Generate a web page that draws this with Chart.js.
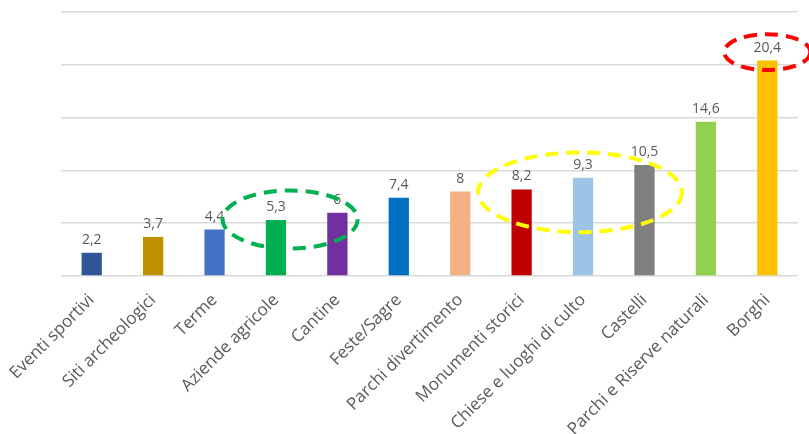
<!DOCTYPE html>
<html>
<head>
<meta charset="utf-8">
<script src="https://cdn.jsdelivr.net/npm/chart.js@4/dist/chart.umd.min.js"></script>
<style>
  html, body { margin: 0; padding: 0; background: #fff; }
  #wrap { width: 809px; height: 434px; }
</style>
</head>
<body>
<div id="wrap"><canvas id="chart" width="809" height="434"></canvas></div>
<script>
const categorie = ['Eventi sportivi', 'Siti archeologici', 'Terme', 'Aziende agricole', 'Cantine', 'Feste/Sagre',
  'Parchi divertimento', 'Monumenti storici', 'Chiese e luoghi di culto', 'Castelli', 'Parchi e Riserve naturali', 'Borghi'];
const valori = [2.2, 3.7, 4.4, 5.3, 6, 7.4, 8, 8.2, 9.3, 10.5, 14.6, 20.4];
const colori = ['#2F5597', '#BF9000', '#4472C4', '#00B050', '#7030A0', '#0070C0',
  '#F4B183', '#C00000', '#9DC3E6', '#7F7F7F', '#92D050', '#FFC000'];

const textC = '#595959';
const gridC = '#d9d9d9';

// etichette valori sopra le barre
const etichette = {
  id: 'etichette',
  afterDatasetsDraw(chart) {
    const ctx = chart.ctx;
    const meta = chart.getDatasetMeta(0);
    ctx.save();
    ctx.fillStyle = textC;
    ctx.font = '14px "Open Sans"';
    ctx.textAlign = 'center';
    ctx.textBaseline = 'alphabetic';
    meta.data.forEach((bar, i) => {
      ctx.fillText(String(valori[i]).replace('.', ','), bar.x, bar.y - 9);
    });
    ctx.restore();
  }
};

// ellissi tratteggiate (centro in indice categoria, estremi in valori)
const ellissi = {
  id: 'ellissi',
  afterDatasetsDraw(chart) {
    const ctx = chart.ctx;
    const x = chart.scales.x, y = chart.scales.y;
    const step = x.getPixelForValue(1) - x.getPixelForValue(0);
    const lista = [
      { cx: 3.23, rx: 1.1, top: 8.1, bottom: 2.6, col: '#00B050' },
      { cx: 7.95, rx: 1.66, top: 11.7, bottom: 4.15, col: '#FFFF00' },
      { cx: 11.0, rx: 0.7, top: 22.9, bottom: 19.5, col: '#FF0000' }
    ];
    ctx.save();
    ctx.lineWidth = 4;
    ctx.setLineDash([13, 8]);
    lista.forEach(e => {
      const px = x.getPixelForValue(e.cx);
      const t = y.getPixelForValue(e.top), b = y.getPixelForValue(e.bottom);
      ctx.strokeStyle = e.col;
      ctx.beginPath();
      ctx.ellipse(px, (t + b) / 2, e.rx * step, (b - t) / 2, 0, 0, Math.PI * 2);
      ctx.stroke();
    });
    ctx.restore();
  }
};

new Chart(document.getElementById('chart'), {
  type: 'bar',
  data: {
    labels: categorie,
    datasets: [{ data: valori, backgroundColor: colori, barPercentage: 0.33, categoryPercentage: 1 }]
  },
  options: {
    responsive: false,
    animation: false,
    layout: { padding: { top: 12, left: 61, right: 11, bottom: 0 } },
    plugins: { legend: { display: false }, tooltip: { enabled: false } },
    scales: {
      x: {
        grid: { display: false },
        border: { display: false },
        ticks: {
          color: textC, autoSkip: false, maxRotation: 45, minRotation: 45, padding: 6,
          font: { size: 17, family: 'Open Sans' }
        },
        afterFit(s) { s.height = 158; }
      },
      y: {
        min: 0, max: 25,
        grid: { color: gridC, lineWidth: 1.5, drawTicks: false },
        border: { display: false },
        ticks: { display: false, stepSize: 5 },
        afterFit(s) { s.width = 0; }
      }
    }
  },
  plugins: [etichette, ellissi]
});
</script>
</body>
</html>
